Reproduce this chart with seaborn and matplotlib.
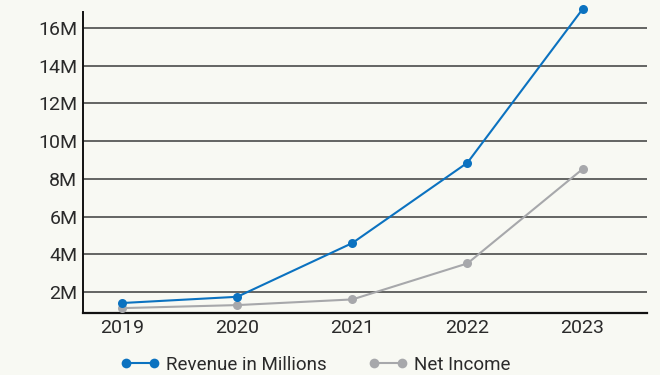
import matplotlib
matplotlib.use("Agg")
import matplotlib.pyplot as plt
import seaborn as sns
import pandas as pd

years = [2019, 2020, 2021, 2022, 2023]
revenue_m = [1.42, 1.75, 4.6, 8.86, 17.0]
net_income_m = [1.15, 1.31, 1.61, 3.52, 8.52]
series_names = ["Revenue in Millions", "Net Income"]
y_ticks = [2, 4, 6, 8, 10, 12, 14, 16]
y_tick_labels = [f"{v}M" for v in y_ticks]

BG = "#f8f9f3"
BLUE = "#0b72c0"
GREY = "#a7a8ab"
TEXT = "#2a2a2a"

sns.set_theme(style="white")
plt.rcParams["font.family"] = ["Roboto", "DejaVu Sans"]

df = pd.DataFrame({
    "year": years * 2,
    "value": revenue_m + net_income_m,
    "series": [series_names[0]] * len(years) + [series_names[1]] * len(years),
})

fig = plt.figure(figsize=(6.6, 3.75), dpi=100, facecolor=BG)
ax = fig.add_axes([0.1258, 0.1653, 0.8545, 0.8027])
ax.set_facecolor(BG)

sns.lineplot(
    data=df, x="year", y="value", hue="series",
    palette={series_names[0]: BLUE, series_names[1]: GREY},
    hue_order=[series_names[1], series_names[0]],
    marker="o", markersize=6.5, markeredgewidth=0, linewidth=1.5,
    ax=ax, legend=False, clip_on=False, zorder=3,
)

ax.set_xlim(2018.66, 2023.56)
ax.set_ylim(0.89, 16.85)
ax.set_xticks(years)
ax.set_xticklabels([str(y) for y in years])
ax.set_yticks(y_ticks)
ax.set_yticklabels(y_tick_labels)
ax.set_xlabel("")
ax.set_ylabel("")
ax.tick_params(axis="both", length=0, labelsize=14, labelcolor=TEXT)
ax.tick_params(axis="x", pad=4)
ax.tick_params(axis="y", pad=4)

for v in y_ticks:
    ax.axhline(v, color="#3c3c3c", linewidth=1.1, zorder=1)

for side in ["top", "right"]:
    ax.spines[side].set_visible(False)
ax.spines["left"].set_color("#111111")
ax.spines["left"].set_linewidth(1.4)
ax.spines["bottom"].set_color("#111111")
ax.spines["bottom"].set_linewidth(1.6)

handles = [
    plt.Line2D([], [], color=BLUE, marker="o", markersize=7, markeredgewidth=0, linewidth=1.5),
    plt.Line2D([], [], color=GREY, marker="o", markersize=7, markeredgewidth=0, linewidth=1.5),
]
fig.legend(
    handles, series_names, loc="center", bbox_to_anchor=(0.478, 0.027),
    ncol=2, frameon=False, numpoints=2, handlelength=2.1, handletextpad=0.35,
    columnspacing=2.2, fontsize=13.5, labelcolor=TEXT,
)

fig.savefig("out.png", dpi=100, facecolor=BG)
